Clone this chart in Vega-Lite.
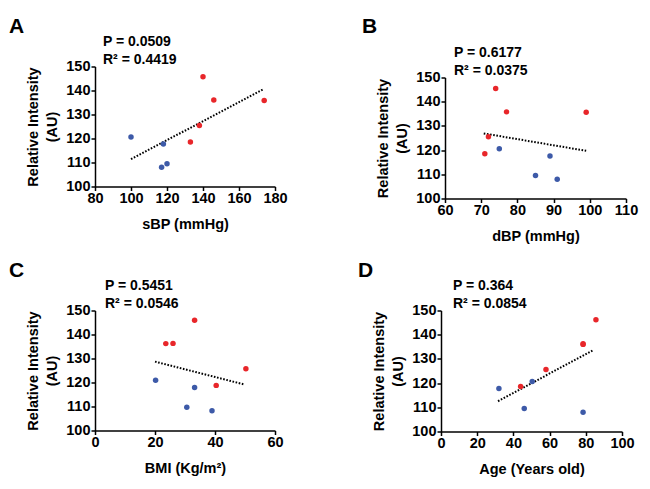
{
  "$schema": "https://vega.github.io/schema/vega-lite/v6.json",
  "background": "white",
  "padding": {"left": 9, "top": 16, "right": 5, "bottom": 5},
  "config": {
    "font": "Liberation Sans",
    "view": {"stroke": null},
    "axis": {
      "grid": false, "labelOverlap": false,
      "labelFont": "Liberation Sans", "labelFontSize": 14.5, "labelFontWeight": "bold", "labelColor": "#000",
      "titleFont": "Liberation Sans", "titleFontSize": 14.5, "titleFontWeight": "bold", "titleColor": "#000",
      "domainColor": "#000", "domainWidth": 1.5, "tickColor": "#000", "tickWidth": 1.5, "tickSize": 4, "labelPadding": 1
    },
    "axisY": {"titlePadding": 6, "titleLineHeight": 19},
    "axisX": {"titlePadding": 12, "labelFlush": false},
    "title": {"font": "Liberation Sans", "color": "#000", "subtitleColor": "#000", "subtitleFont": "Liberation Sans"}
  },
  "datasets": {
    "none": [],
    "a_pts": [
      {"x": 100, "y": 120.6, "group": "Group 1"}, {"x": 118, "y": 117.7, "group": "Group 1"},
      {"x": 117, "y": 108, "group": "Group 1"}, {"x": 120, "y": 109.5, "group": "Group 1"},
      {"x": 133, "y": 118.5, "group": "Group 2"}, {"x": 138, "y": 125.4, "group": "Group 2"},
      {"x": 140, "y": 145.7, "group": "Group 2"}, {"x": 146, "y": 136, "group": "Group 2"},
      {"x": 174, "y": 135.8, "group": "Group 2"}
    ],
    "a_fit": [{"x": 100, "y": 111.4}, {"x": 173.5, "y": 140.5}],
    "b_pts": [
      {"x": 74, "y": 145.5, "group": "Group 2"}, {"x": 77, "y": 135.8, "group": "Group 2"},
      {"x": 99, "y": 135.6, "group": "Group 2"}, {"x": 72, "y": 125.5, "group": "Group 2"},
      {"x": 71, "y": 118.5, "group": "Group 2"},
      {"x": 75, "y": 120.6, "group": "Group 1"}, {"x": 89, "y": 117.6, "group": "Group 1"},
      {"x": 85, "y": 109.5, "group": "Group 1"}, {"x": 91, "y": 108, "group": "Group 1"}
    ],
    "b_fit": [{"x": 70.7, "y": 126.9}, {"x": 99, "y": 119.7}],
    "c_pts": [
      {"x": 33.2, "y": 145.9, "group": "Group 2"}, {"x": 23.6, "y": 136.2, "group": "Group 2"},
      {"x": 26, "y": 136.3, "group": "Group 2"}, {"x": 50.3, "y": 125.7, "group": "Group 2"},
      {"x": 40.4, "y": 118.8, "group": "Group 2"},
      {"x": 20.2, "y": 120.9, "group": "Group 1"}, {"x": 33.2, "y": 117.9, "group": "Group 1"},
      {"x": 30.6, "y": 109.7, "group": "Group 1"}, {"x": 39, "y": 108.2, "group": "Group 1"}
    ],
    "c_fit": [{"x": 20, "y": 128.7}, {"x": 49.7, "y": 119.2}],
    "d_pts": [
      {"x": 32, "y": 117.8, "group": "Group 1"}, {"x": 50.4, "y": 120.7, "group": "Group 1"},
      {"x": 46, "y": 109.5, "group": "Group 1"}, {"x": 78.5, "y": 108, "group": "Group 1"},
      {"x": 44, "y": 118.6, "group": "Group 2"}, {"x": 58, "y": 125.6, "group": "Group 2"},
      {"x": 78.5, "y": 136.3, "group": "Group 2"}, {"x": 78.5, "y": 136, "group": "Group 2"},
      {"x": 85.6, "y": 146.2, "group": "Group 2"}
    ],
    "d_fit": [{"x": 31.5, "y": 112.5}, {"x": 84, "y": 133.6}]
  },
  "vconcat": [
    {
      "hconcat": [
        {
          "spacing": -2.5,
          "vconcat": [
            {"width": 180, "height": 1, "data": {"name": "none"}, "mark": "point",
             "title": {"text": "A", "anchor": "start", "fontSize": 21, "fontWeight": "bold", "dx": -86, "offset": -6}},
            {
            "width": 180, "height": 120,
            "title": {"text": "P = 0.0509", "subtitle": "R² = 0.4419", "anchor": "start", "frame": "group", "dx": 8, "fontSize": 14, "fontWeight": "bold", "subtitleFontSize": 14, "subtitleFontWeight": "bold", "subtitlePadding": 4, "offset": -8},
            "encoding": {
              "x": {"field": "x", "type": "quantitative", "scale": {"domain": [80, 180]}, "axis": {"values": [80, 100, 120, 140, 160, 180], "title": "sBP (mmHg)"}},
              "y": {"field": "y", "type": "quantitative", "scale": {"domain": [100, 150]}, "axis": {"values": [100, 110, 120, 130, 140, 150], "title": ["Relative Intensity", "(AU)"]}}
            },
            "layer": [
              {"data": {"name": "a_fit"}, "mark": {"type": "line", "color": "#000", "strokeDash": [1.6, 1.6], "strokeWidth": 2}},
              {"data": {"name": "a_pts"}, "mark": {"type": "circle", "size": 30, "opacity": 1},
               "encoding": {"color": {"field": "group", "type": "nominal", "scale": {"domain": ["Group 1", "Group 2"], "range": ["#3d5aa8", "#e8262a"]}, "legend": null}}}
            ]
          }]
        },
        {
          "spacing": -2.5,
          "vconcat": [
            {"width": 181, "height": 17, "data": {"name": "none"}, "mark": "point",
             "title": {"text": "B", "anchor": "start", "fontSize": 21, "fontWeight": "bold", "dx": -83, "offset": -6}},
            {
            "width": 181, "height": 121,
            "title": {"text": "P = 0.6177", "subtitle": "R² = 0.0375", "anchor": "start", "frame": "group", "dx": 9, "fontSize": 14, "fontWeight": "bold", "subtitleFontSize": 14, "subtitleFontWeight": "bold", "subtitlePadding": 4, "offset": -8},
            "encoding": {
              "x": {"field": "x", "type": "quantitative", "scale": {"domain": [60, 110]}, "axis": {"values": [60, 70, 80, 90, 100, 110], "title": "dBP (mmHg)"}},
              "y": {"field": "y", "type": "quantitative", "scale": {"domain": [100, 150]}, "axis": {"values": [100, 110, 120, 130, 140, 150], "title": ["Relative Intensity", "(AU)"]}}
            },
            "layer": [
              {"data": {"name": "b_fit"}, "mark": {"type": "line", "color": "#000", "strokeDash": [1.6, 1.6], "strokeWidth": 2}},
              {"data": {"name": "b_pts"}, "mark": {"type": "circle", "size": 30, "opacity": 1},
               "encoding": {"color": {"field": "group", "type": "nominal", "scale": {"domain": ["Group 1", "Group 2"], "range": ["#3d5aa8", "#e8262a"]}, "legend": null}}}
            ]
          }]
        }
      ],
      "spacing": 74
    },
    {
      "hconcat": [
        {
          "spacing": -2.5,
          "vconcat": [
            {"width": 180, "height": 1, "data": {"name": "none"}, "mark": "point",
             "title": {"text": "C", "anchor": "start", "fontSize": 21, "fontWeight": "bold", "dx": -86, "offset": -6}},
            {
            "width": 180, "height": 120,
            "title": {"text": "P = 0.5451", "subtitle": "R² = 0.0546", "anchor": "start", "frame": "group", "dx": 10, "fontSize": 14, "fontWeight": "bold", "subtitleFontSize": 14, "subtitleFontWeight": "bold", "subtitlePadding": 4, "offset": -8},
            "encoding": {
              "x": {"field": "x", "type": "quantitative", "scale": {"domain": [0, 60]}, "axis": {"values": [0, 20, 40, 60], "title": "BMI (Kg/m²)"}},
              "y": {"field": "y", "type": "quantitative", "scale": {"domain": [100, 150]}, "axis": {"values": [100, 110, 120, 130, 140, 150], "title": ["Relative Intensity", "(AU)"]}}
            },
            "layer": [
              {"data": {"name": "c_fit"}, "mark": {"type": "line", "color": "#000", "strokeDash": [1.6, 1.6], "strokeWidth": 2}},
              {"data": {"name": "c_pts"}, "mark": {"type": "circle", "size": 30, "opacity": 1},
               "encoding": {"color": {"field": "group", "type": "nominal", "scale": {"domain": ["Group 1", "Group 2"], "range": ["#3d5aa8", "#e8262a"]}, "legend": null}}}
            ]
          }]
        },
        {
          "spacing": -2.5,
          "vconcat": [
            {"width": 181, "height": 1, "data": {"name": "none"}, "mark": "point",
             "title": {"text": "D", "anchor": "start", "fontSize": 21, "fontWeight": "bold", "dx": -83, "offset": -6}},
            {
            "width": 181, "height": 121,
            "title": {"text": "P = 0.364", "subtitle": "R² = 0.0854", "anchor": "start", "frame": "group", "dx": 12, "fontSize": 14, "fontWeight": "bold", "subtitleFontSize": 14, "subtitleFontWeight": "bold", "subtitlePadding": 4, "offset": -8},
            "encoding": {
              "x": {"field": "x", "type": "quantitative", "scale": {"domain": [0, 100]}, "axis": {"values": [0, 20, 40, 60, 80, 100], "title": "Age (Years old)"}},
              "y": {"field": "y", "type": "quantitative", "scale": {"domain": [100, 150]}, "axis": {"values": [100, 110, 120, 130, 140, 150], "title": ["Relative Intensity", "(AU)"]}}
            },
            "layer": [
              {"data": {"name": "d_fit"}, "mark": {"type": "line", "color": "#000", "strokeDash": [1.6, 1.6], "strokeWidth": 2}},
              {"data": {"name": "d_pts"}, "mark": {"type": "circle", "size": 30, "opacity": 1},
               "encoding": {"color": {"field": "group", "type": "nominal", "scale": {"domain": ["Group 1", "Group 2"], "range": ["#3d5aa8", "#e8262a"]}, "legend": null}}}
            ]
          }]
        }
      ],
      "spacing": 74
    }
  ],
  "spacing": 17
}
